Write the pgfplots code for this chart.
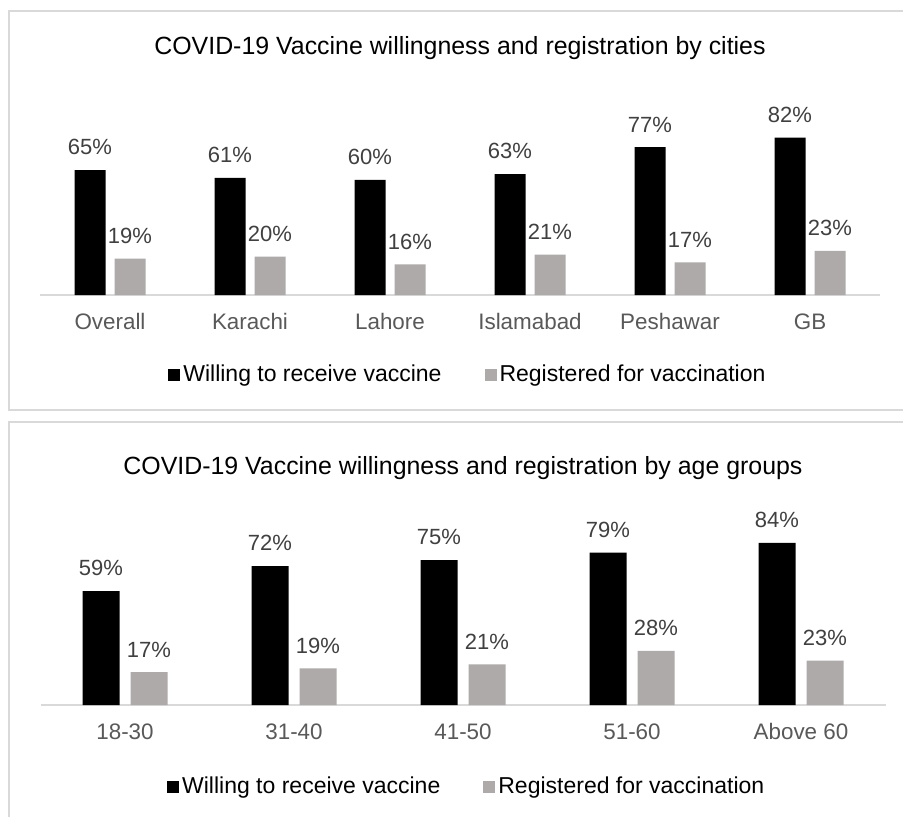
\documentclass[border=0pt]{standalone}
\usepackage{pgfplots}
\pgfplotsset{compat=1.18}
\usepackage{fontspec}
\setmainfont{Liberation Sans}
\definecolor{barblack}{HTML}{000000}
\definecolor{bargray}{HTML}{AEAAAA}
\definecolor{framegray}{HTML}{D9D9D9}
\definecolor{ticktext}{HTML}{595959}
\definecolor{labtext}{HTML}{404040}
\pgfplotsset{
  mystyle/.style={
    scale only axis,
    ymin=0,
    axis x line*=bottom,
    axis y line=none,
    x axis line style={color=framegray,line width=0.75pt},
    major tick length=0pt,
    xtick style={draw=none},
    xtick=data,
    xticklabel style={font=\fontsize{11.2}{13}\selectfont,text=ticktext,text height=8pt,text depth=0pt,yshift=-5.5pt},
    /pgf/number format/assume math mode=true,
    nodes near coords={\pgfmathprintnumber{\pgfplotspointmeta}\%},
    every node near coord/.append style={font=\fontsize{11}{13}\selectfont,text=labtext,yshift=4pt},
    title style={font=\fontsize{12.45}{14}\selectfont,text=black},
    legend columns=2,
    legend style={draw=none,fill=none,font=\fontsize{11.5}{13}\selectfont,
      nodes={inner xsep=1.5pt},
      /tikz/every even column/.append style={column sep=20pt}},
  },
  sqlegend/.style={legend image code/.code={\fill[##1] (0pt,-3pt) rectangle (6pt,3pt);}},
}
\begin{document}
\begin{tikzpicture}
\useasboundingbox (0,0) rectangle (451.5pt,408pt);
\clip (0,0) rectangle (451.5pt,408pt);
\fill[white] (0,0) rectangle (451.5pt,408pt);
\draw[framegray,line width=0.75pt] (4.5pt,203pt) rectangle (460pt,402.5pt);
\draw[framegray,line width=0.75pt] (4.5pt,-5pt) rectangle (460pt,197pt);

\begin{axis}[mystyle,
  at={(20pt,260.5pt)}, anchor=south west,
  width=420pt, height=102.5pt,
  xmin=-0.5, xmax=5.5, ymax=106.8,
  xticklabels={Overall,Karachi,Lahore,Islamabad,Peshawar,GB},
  title={COVID-19 Vaccine willingness and registration by cities},
  title style={at={(0.5,1.147)},anchor=center},
  legend style={at={(0.51,-0.39)},anchor=center},
  ybar, bar width=15.5pt, sqlegend,
]
\addplot[fill=barblack,draw=none,bar shift=-10pt] coordinates {(0,65) (1,61) (2,60) (3,63) (4,77) (5,82)};
\addplot[fill=bargray,draw=none,bar shift=10pt] coordinates {(0,19) (1,20) (2,16) (3,21) (4,17) (5,23)};
\legend{Willing to receive vaccine,Registered for vaccination}
\end{axis}

\begin{axis}[mystyle,
  at={(20.25pt,55.5pt)}, anchor=south west,
  width=422.5pt, height=102.5pt,
  xmin=-0.5, xmax=4.5, ymax=106.2,
  xticklabels={18-30,31-40,41-50,51-60,Above 60},
  title={COVID-19 Vaccine willingness and registration by age groups},
  title style={at={(0.5,1.097)},anchor=center},
  legend style={at={(0.505,-0.40)},anchor=center},
  ybar, bar width=18.5pt, sqlegend,
]
\addplot[fill=barblack,draw=none,bar shift=-12pt] coordinates {(0,59) (1,72) (2,75) (3,79) (4,84)};
\addplot[fill=bargray,draw=none,bar shift=12pt] coordinates {(0,17) (1,19) (2,21) (3,28) (4,23)};
\legend{Willing to receive vaccine,Registered for vaccination}
\end{axis}
\end{tikzpicture}
\end{document}
